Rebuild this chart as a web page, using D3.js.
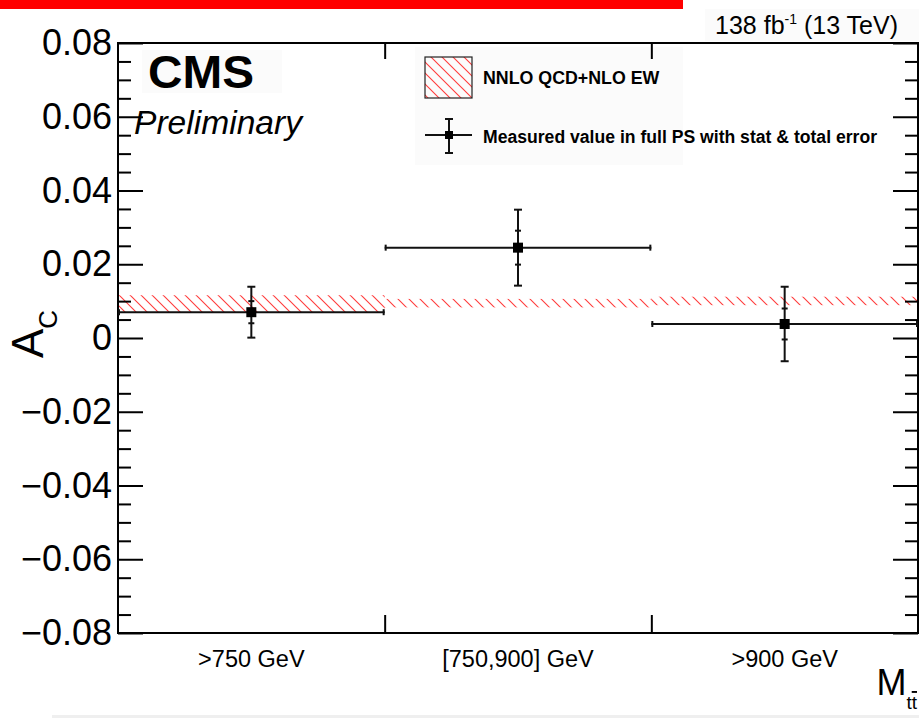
<!DOCTYPE html>
<html><head><meta charset="utf-8">
<script src="https://cdn.jsdelivr.net/npm/d3@7"></script>
<style>
html,body{margin:0;padding:0;background:#fff;}
svg{display:block;font-family:"Liberation Sans",Arial,Helvetica,sans-serif;}
</style></head><body>
<svg id="chart" width="919" height="718"></svg>
<script>
// ---- data ----
const categories = [">750 GeV", "[750,900] GeV", ">900 GeV"];
const measured = [0.0070, 0.0245, 0.0038];
const statErr = [0.0030, 0.0046, 0.0042];
const totalErr = [0.0069, 0.0103, 0.0101];
const theoryLow = [0.0070, 0.0083, 0.0089];
const theoryHigh = [0.0116, 0.0106, 0.0112];
const yMajorTicks = [-0.08, -0.06, -0.04, -0.02, 0, 0.02, 0.04, 0.06, 0.08];
const yMinorTicks = [-0.075, -0.07, -0.065, -0.055, -0.05, -0.045, -0.035, -0.03, -0.025,
  -0.015, -0.01, -0.005, 0.005, 0.01, 0.015, 0.025, 0.03, 0.035, 0.045, 0.05, 0.055,
  0.065, 0.07, 0.075];
const binEdges = [1, 2];
const legendLabels = ["NNLO QCD+NLO EW", "Measured value in full PS with stat & total error"];

// ---- layout ----
const L = 118, R = 918, T = 43, B = 633;
const svg = d3.select("#chart");
const x = d3.scaleBand().domain(categories).range([L, R]).paddingInner(0).paddingOuter(0);
const xb = d3.scaleLinear().domain([0, categories.length]).range([L, R]);
const y = d3.scaleLinear().domain([-0.08, 0.08]).range([B, T]);

// defs: hatch
const defs = svg.append("defs");
const pat = defs.append("pattern").attr("id", "hatch").attr("patternUnits", "userSpaceOnUse")
  .attr("width", 11).attr("height", 11);
pat.append("path").attr("d", "M-1,-1 L12,12 M-1,10 L1,12 M10,-1 L12,1")
  .attr("stroke", "#ff3b3b").attr("stroke-width", 1.1).attr("fill", "none");

// faint background boxes
svg.append("rect").attr("x", 705).attr("y", 9).attr("width", 214).attr("height", 32).attr("fill", "#fbfbfb");
svg.append("rect").attr("x", 142).attr("y", 50).attr("width", 140).attr("height", 43).attr("fill", "#fbfbfb");
svg.append("rect").attr("x", 415).attr("y", 47).attr("width", 268).attr("height", 118).attr("fill", "#fbfbfb");
svg.append("rect").attr("x", 52).attr("y", 715).attr("width", 867).attr("height", 3).attr("fill", "#efefef");

// red top bar
svg.append("rect").attr("x", 0).attr("y", 0).attr("width", 683).attr("height", 9).attr("fill", "#ff0000");

// theory bands
svg.append("g").selectAll("rect").data(categories).join("rect")
  .attr("x", d => x(d)).attr("width", x.bandwidth())
  .attr("y", (d, i) => y(theoryHigh[i]))
  .attr("height", (d, i) => y(theoryLow[i]) - y(theoryHigh[i]))
  .attr("fill", "url(#hatch)");

// axes
function styleAxis(g) {
  g.select(".domain").remove();
  g.selectAll(".tick line").attr("stroke", "#000").attr("stroke-width", 2);
  g.selectAll("text").attr("fill", "#000");
}
const fmt = d => d === 0 ? "0" : d3.format(".2f")(d);
svg.append("g").attr("transform", `translate(${L},0)`)
  .call(d3.axisLeft(y).tickValues(yMajorTicks).tickSizeInner(-25).tickSizeOuter(0).tickPadding(6).tickFormat(fmt))
  .call(styleAxis).call(g => g.selectAll("text").attr("font-size", 36));
svg.append("g").attr("transform", `translate(${L},0)`)
  .call(d3.axisLeft(y).tickValues(yMinorTicks).tickSizeInner(-13).tickSizeOuter(0).tickFormat(""))
  .call(styleAxis);
svg.append("g").attr("transform", `translate(${R},0)`)
  .call(d3.axisRight(y).tickValues(yMajorTicks).tickSizeInner(-25).tickSizeOuter(0).tickFormat(""))
  .call(styleAxis);
svg.append("g").attr("transform", `translate(${R},0)`)
  .call(d3.axisRight(y).tickValues(yMinorTicks).tickSizeInner(-13).tickSizeOuter(0).tickFormat(""))
  .call(styleAxis);
svg.append("g").attr("transform", `translate(0,${B})`)
  .call(d3.axisBottom(xb).tickValues(binEdges).tickSizeInner(-18).tickSizeOuter(0).tickFormat(""))
  .call(styleAxis);
svg.append("g").attr("transform", `translate(0,${T})`)
  .call(d3.axisTop(xb).tickValues(binEdges).tickSizeInner(-16).tickSizeOuter(0).tickFormat(""))
  .call(styleAxis);
svg.append("g").attr("transform", `translate(0,${B})`)
  .call(d3.axisBottom(x).tickSize(0).tickPadding(17))
  .call(styleAxis).call(g => g.selectAll("text").attr("font-size", 23.5));

// frame
svg.append("rect").attr("x", L).attr("y", T).attr("width", R - L).attr("height", B - T)
  .attr("fill", "none").attr("stroke", "#000").attr("stroke-width", 2);

// data points
const ink = "#111";
const pts = svg.append("g").selectAll("g").data(categories).join("g");
pts.append("line").attr("x1", d => x(d)).attr("x2", d => x(d) + x.bandwidth())
  .attr("y1", (d, i) => y(measured[i])).attr("y2", (d, i) => y(measured[i]))
  .attr("stroke", ink).attr("stroke-width", 2);
[0, 1].forEach(side => {
  pts.append("line")
    .attr("x1", d => side ? x(d) + x.bandwidth() - 1 : x(d) + 1)
    .attr("x2", d => side ? x(d) + x.bandwidth() - 1 : x(d) + 1)
    .attr("y1", (d, i) => y(measured[i]) - 3).attr("y2", (d, i) => y(measured[i]) + 3)
    .attr("stroke", ink).attr("stroke-width", 2);
});
pts.append("line").attr("x1", d => x(d) + x.bandwidth() / 2).attr("x2", d => x(d) + x.bandwidth() / 2)
  .attr("y1", (d, i) => y(measured[i] + totalErr[i])).attr("y2", (d, i) => y(measured[i] - totalErr[i]))
  .attr("stroke", ink).attr("stroke-width", 2);
[[totalErr, 4], [statErr, 3]].forEach(([err, hw]) => {
  [1, -1].forEach(sg => {
    pts.append("line")
      .attr("x1", d => x(d) + x.bandwidth() / 2 - hw).attr("x2", d => x(d) + x.bandwidth() / 2 + hw)
      .attr("y1", (d, i) => y(measured[i] + sg * err[i])).attr("y2", (d, i) => y(measured[i] + sg * err[i]))
      .attr("stroke", ink).attr("stroke-width", 2);
  });
});
pts.append("rect").attr("x", d => x(d) + x.bandwidth() / 2 - 5).attr("width", 10)
  .attr("y", (d, i) => y(measured[i]) - 5).attr("height", 10).attr("fill", "#000");

// legend
svg.append("rect").attr("x", 425).attr("y", 57).attr("width", 47).attr("height", 41)
  .attr("fill", "url(#hatch)").attr("stroke", "#222").attr("stroke-width", 1.2);
svg.append("text").attr("x", 483).attr("y", 84).attr("font-size", 17.8).attr("font-weight", "bold")
  .text(legendLabels[0]);
const lg = svg.append("g").attr("stroke", ink).attr("stroke-width", 2);
lg.append("line").attr("x1", 425).attr("x2", 472).attr("y1", 135).attr("y2", 135);
lg.append("line").attr("x1", 449).attr("x2", 449).attr("y1", 119).attr("y2", 153);
lg.append("line").attr("x1", 445).attr("x2", 453).attr("y1", 119).attr("y2", 119);
lg.append("line").attr("x1", 445).attr("x2", 453).attr("y1", 153).attr("y2", 153);
svg.append("rect").attr("x", 445).attr("y", 131).attr("width", 8).attr("height", 8).attr("fill", "#000");
svg.append("text").attr("x", 483).attr("y", 143).attr("font-size", 17.6).attr("font-weight", "bold")
  .text(legendLabels[1]);

// CMS labels
svg.append("text").attr("x", 148).attr("y", 88).attr("font-size", 46).attr("font-weight", "bold")
  .attr("textLength", 106).attr("lengthAdjust", "spacingAndGlyphs").text("CMS");
svg.append("text").attr("x", 134).attr("y", 134).attr("font-size", 33).attr("font-style", "italic")
  .attr("textLength", 168).attr("lengthAdjust", "spacingAndGlyphs").text("Preliminary");

// lumi label
const lumi = svg.append("text").attr("x", 898).attr("y", 34).attr("font-size", 25).attr("text-anchor", "end");
lumi.append("tspan").text("138 fb");
lumi.append("tspan").attr("font-size", 14).attr("dy", -10).text("-1");
lumi.append("tspan").attr("dy", 10).text(" (13 TeV)");

// y title
const yt = svg.append("text").attr("transform", "translate(43,358) rotate(-90)").attr("font-size", 44);
yt.append("tspan").text("A");
yt.append("tspan").attr("font-size", 26).attr("dy", 14).text("C");

// x title
const xt = svg.append("text").attr("x", 917).attr("y", 695).attr("text-anchor", "end").attr("font-size", 36);
xt.append("tspan").text("M");
xt.append("tspan").attr("font-size", 19).attr("dy", 14).text("t");
xt.append("tspan").attr("font-size", 19).style("text-decoration", "overline").text("t");
</script>
</body></html>
